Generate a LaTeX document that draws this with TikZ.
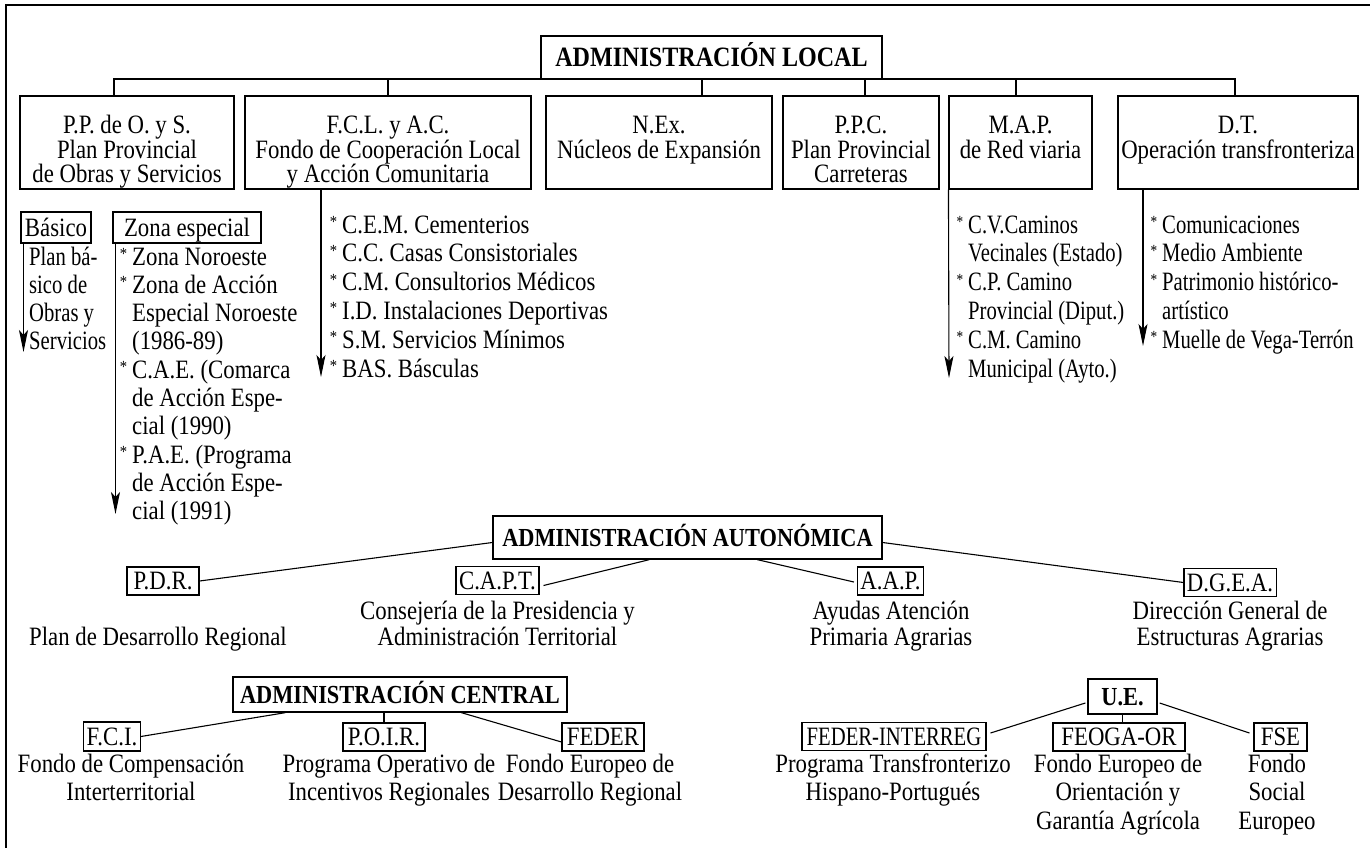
\documentclass[tikz,border=0pt]{standalone}
\usepackage{fontspec}
\setmainfont{Liberation Serif}[FakeStretch=0.86]
\newfontfamily\nar{Liberation Serif}[FakeStretch=0.78]
\usetikzlibrary{arrows.meta,calc}
\newcommand\st{\llap{\raisebox{5.5pt}{\fontsize{17}{17}\selectfont *}\hspace{5pt}}}
\begin{document}
\begin{tikzpicture}[x=1pt,y=-1pt,
  every node/.style={inner sep=0pt, font=\fontsize{26.5}{28}\selectfont},
  cn/.style={line width=1.1pt},
  bx/.style={draw, line width=1.1pt, inner sep=0pt},
  sbx/.style={draw, line width=1.1pt, inner xsep=3pt, inner ysep=0pt, minimum height=28pt, text height=18pt, text depth=0.5pt},
  hd/.style={draw, line width=1.3pt, inner xsep=5pt, minimum height=43pt, text height=19pt, text depth=1pt, font=\fontsize{26}{28}\selectfont\bfseries},
  tx/.style={anchor=base},
  lt/.style={anchor=base west},
  nr/.style={font=\nar\fontsize{26.5}{28}\selectfont},
  arr/.style={line width=1.1pt, -{Stealth[length=22pt,width=9pt,inset=5pt]}}
]
\useasboundingbox (0,0) rectangle (1370,848);
\draw[line width=1.5pt] (6,848) -- (6,5) -- (1370,5);

% ---------- Administracion local ----------
\node[hd, minimum width=341pt, font=\fontsize{28}{30}\selectfont\bfseries] (local) at (711.5,57.5) {ADMINISTRACIÓN LOCAL};

\node[bx, minimum width=214pt, minimum height=93pt] (pp)  at (127,142.5) {};
\node[bx, minimum width=286pt, minimum height=93pt] (fcl) at (388,142.5) {};
\node[bx, minimum width=226pt, minimum height=93pt] (nex) at (659,142.5) {};
\node[bx, minimum width=156pt, minimum height=93pt] (ppc) at (861,142.5) {};
\node[bx, minimum width=143pt, minimum height=93pt] (map) at (1020.5,142.5) {};
\node[bx, minimum width=240pt, minimum height=93pt] (dt)  at (1238,142.5) {};

\foreach \lbl [count=\i] in {P.P. de O. y S., Plan Provincial, de Obras y Servicios}
  \node[tx] (pp-\i) at (127,{134+24*(\i-1)}) {\lbl};
\foreach \lbl [count=\i] in {F.C.L. y A.C., Fondo de Cooperación Local, y Acción Comunitaria}
  \node[tx] (fcl-\i) at (388,{134+24*(\i-1)}) {\lbl};
\foreach \lbl [count=\i] in {N.Ex., Núcleos de Expansión}
  \node[tx] (nex-\i) at (659,{134+24*(\i-1)}) {\lbl};
\foreach \lbl [count=\i] in {P.P.C., Plan Provincial, Carreteras}
  \node[tx] (ppc-\i) at (861,{134+24*(\i-1)}) {\lbl};
\foreach \lbl [count=\i] in {M.A.P., de Red viaria}
  \node[tx] (map-\i) at (1020.5,{134+24*(\i-1)}) {\lbl};
\foreach \lbl [count=\i] in {D.T., Operación transfronteriza}
  \node[tx] (dt-\i) at (1238,{134+24*(\i-1)}) {\lbl};

\coordinate (bL) at (114,79);
\coordinate (bR) at (1235,79);
\coordinate (bN) at (702,79);
\coordinate (bP) at (865,79);
\coordinate (bM) at (1016,79);
\draw[cn] (pp.north -| bL) -- (bL) -- (bR) -- (dt.north -| bR);
\draw[cn] (fcl.north) -- (fcl.north |- bL);
\draw[cn] (nex.north -| bN) -- (bN);
\draw[cn] (ppc.north -| bP) -- (bP);
\draw[cn] (map.north -| bM) -- (bM);

% sub boxes
\node[sbx, minimum width=70pt, minimum height=31pt] (bas) at (56,227.5) {Básico};
\node[sbx, minimum width=148pt, minimum height=31pt] (zon) at (187,227.5) {Zona especial};

\foreach \lbl [count=\i] in {Plan bá-, sico de, Obras y, Servicios}
  \node[lt, nr] (bl-\i) at (29,{265+28.3*(\i-1)}) {\lbl};
\foreach \lbl [count=\i] in {\st Zona Noroeste, \st Zona de Acción, Especial Noroeste, (1986-89), \st C.A.E. (Comarca, de Acción Espe-, cial (1990), \st P.A.E. (Programa, de Acción Espe-, cial (1991)}
  \node[lt] (zl-\i) at (132,{265+28.3*(\i-1)}) {\lbl};
\foreach \lbl [count=\i] in {\st C.E.M. Cementerios, \st C.C. Casas Consistoriales, \st C.M. Consultorios Médicos, \st I.D. Instalaciones Deportivas, \st S.M. Servicios Mínimos, \st BAS. Básculas}
  \node[lt] (fl-\i) at (342,{233+28.8*(\i-1)}) {\lbl};
\foreach \lbl [count=\i] in {\st C.V.Caminos, Vecinales (Estado), \st C.P. Camino, Provincial (Diput.), \st C.M. Camino, Municipal (Ayto.)}
  \node[lt, nr] (ml-\i) at (968,{233+28.8*(\i-1)}) {\lbl};
\foreach \lbl [count=\i] in {\st Comunicaciones, \st Medio Ambiente, \st Patrimonio histórico-, artístico, \st Muelle de Vega-Terrón}
  \node[lt, nr] (dl-\i) at (1162,{233+28.8*(\i-1)}) {\lbl};

\coordinate (basE) at (23.5,352);
\coordinate (zonE) at (115.5,514);
\coordinate (fclE) at (321,377);
\coordinate (mapE) at (949,378);
\coordinate (dtE) at (1143,346);
\draw[arr] (bas.south -| basE) -- (basE);
\draw[arr] (zon.south -| zonE) -- (zonE);
\draw[arr] (fcl.south -| fclE) -- (fclE);
\draw[arr] (map.south west) -- (mapE);
\draw[arr] (dt.south -| dtE) -- (dtE);

% ---------- Administracion autonomica ----------
\node[hd, minimum width=389pt] (aut) at (687.5,537.5) {ADMINISTRACIÓN AUTONÓMICA};
\node[sbx, minimum width=72pt] (pdr) at (163,581) {P.D.R.};
\node[sbx, minimum width=83pt] (capt) at (497.5,580.5) {C.A.P.T.};
\node[sbx, minimum width=65pt] (aap) at (890.5,581) {A.A.P.};
\node[sbx, minimum width=92pt] (dgea) at (1230,582.5) {D.G.E.A.};

\draw[cn] (pdr.east) -- ($(aut.west)+(0,5)$);
\draw[cn] ($(capt.east)+(4,5)$) -- ($(aut.south west)+(157,0)$);
\draw[cn] ($(aut.south west)+(265,0)$) -- ($(aap.west)+(-3,1)$);
\draw[cn] ($(aut.east)+(0,5)$) -- (dgea.west);

\node[tx] (pdr-1) at (158,645) {Plan de Desarrollo Regional};
\foreach \lbl [count=\i] in {Consejería de la Presidencia y, Administración Territorial}
  \node[tx] (capt-\i) at (497.5,{619+26*(\i-1)}) {\lbl};
\foreach \lbl [count=\i] in {Ayudas Atención, Primaria Agrarias}
  \node[tx] (aap-\i) at (891,{619+26*(\i-1)}) {\lbl};
\foreach \lbl [count=\i] in {Dirección General de, Estructuras Agrarias}
  \node[tx] (dgea-\i) at (1230,{619+26*(\i-1)}) {\lbl};

% ---------- Administracion central ----------
\node[hd, minimum width=334pt, minimum height=35pt] (cen) at (400,694.5) {ADMINISTRACIÓN CENTRAL};
\node[sbx, minimum width=52pt, minimum height=29pt] (fci) at (112,736.5) {F.C.I.};
\node[sbx, minimum width=82pt] (poir) at (384,737) {P.O.I.R.};
\node[sbx, minimum width=82pt] (feder) at (603,737) {FEDER};

\draw[cn] ($(cen.south west)+(53,0)$) -- (fci.east);
\draw[cn] (poir.north) -- (poir.north |- cen.south);
\draw[cn] ($(cen.south west)+(229,0)$) -- ($(feder.west)+(0,5)$);

\foreach \lbl [count=\i] in {Fondo de Compensación, Interterritorial}
  \node[tx] (fci-\i) at (131,{772+28.5*(\i-1)}) {\lbl};
\foreach \lbl [count=\i] in {Programa Operativo de, Incentivos Regionales}
  \node[tx] (poir-\i) at (389,{772+28.5*(\i-1)}) {\lbl};
\foreach \lbl [count=\i] in {Fondo Europeo de, Desarrollo Regional}
  \node[tx] (feder-\i) at (590,{772+28.5*(\i-1)}) {\lbl};

% ---------- U.E. ----------
\node[hd, minimum width=69pt, minimum height=35pt] (ue) at (1122.5,696.5) {U.E.};
\node[sbx, nr, minimum width=184pt] (fint) at (894,736.5) {FEDER-INTERREG};
\node[sbx, minimum width=132pt] (feoga) at (1119,737) {FEOGA-OR};
\node[sbx, minimum width=53pt] (fse) at (1280.5,737) {FSE};

\draw[cn] ($(ue.west)+(-2,6.5)$) -- ($(fint.east)+(4,-3.5)$);
\draw[cn] ($(ue.east)+(2,6.5)$) -- ($(fse.west)+(-4,-4)$);
\draw[cn] (ue.south) -- (ue.south |- feoga.north);

\foreach \lbl [count=\i] in {Programa Transfronterizo, Hispano-Portugués}
  \node[tx] (fint-\i) at (893,{772+28.5*(\i-1)}) {\lbl};
\foreach \lbl [count=\i] in {Fondo Europeo de, Orientación y, Garantía Agrícola}
  \node[tx] (feoga-\i) at (1118,{772+28.5*(\i-1)}) {\lbl};
\foreach \lbl [count=\i] in {Fondo, Social, Europeo}
  \node[tx] (fse-\i) at (1277,{772+28.5*(\i-1)}) {\lbl};
\end{tikzpicture}
\end{document}
